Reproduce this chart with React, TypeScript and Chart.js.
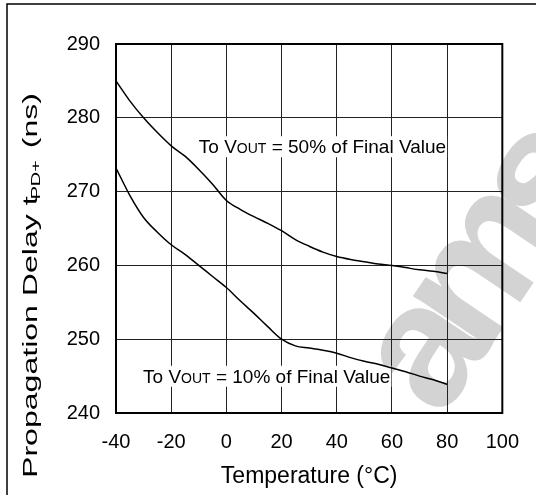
import React, { useEffect, useRef } from "react";
import { Chart, registerables } from "chart.js";

Chart.register(...registerables);

// ---- data ----
const temperatures = [-40, -35, -30, -25, -20, -15, -10, -5, 0, 5, 10, 15, 20, 25, 30, 35, 40, 45, 50, 55, 60, 65, 70, 75, 80];
const delay50 = [285, 282.3, 280, 278, 276.2, 274.8, 273, 271, 268.8, 267.6, 266.6, 265.7, 264.7, 263.5, 262.6, 261.8, 261.2, 260.8, 260.5, 260.2, 260, 259.7, 259.4, 259.2, 258.9];
const delay10 = [273.2, 269.5, 266.5, 264.5, 262.8, 261.5, 260, 258.5, 257, 255.2, 253.5, 251.7, 250, 249.1, 248.8, 248.5, 248.1, 247.5, 247, 246.6, 246.1, 245.6, 245, 244.5, 243.9];
const xTickValues = [-40, -20, 0, 20, 40, 60, 80, 100];
const yTickValues = [240, 250, 260, 270, 280, 290];
const xTitle = "Temperature (°C)";
const yTitleParts = ["Propagation Delay t", "PD+", " (ns)"];
const label50 = ["To V", "OUT", " = 50% of Final Value"];
const label10 = ["To V", "OUT", " = 10% of Final Value"];
const label50Pos = [-10, 275.2];
const label10Pos = [-30.2, 244.1];
const watermarkText = "ams";

const FONT = "'Liberation Sans', Arial, Helvetica, sans-serif";

const framePlugin = {
  id: "frameAndWatermark",
  beforeDraw(chart: any) {
    const ctx = chart.ctx;
    ctx.save();
    ctx.fillStyle = "#ffffff";
    ctx.fillRect(0, 0, chart.width, chart.height);
    // watermark
    ctx.translate(441, 420);
    ctx.rotate((-56 * Math.PI) / 180);
    ctx.fillStyle = "#d3d3d3";
    ctx.font = `bold 175px ${FONT}`;
    try { ctx.letterSpacing = "-22px"; } catch (e) {}
    ctx.textBaseline = "alphabetic";
    ctx.fillText(watermarkText, 0, 0);
    ctx.restore();
    // outer frame
    ctx.save();
    ctx.strokeStyle = "#000";
    ctx.lineWidth = 1.5;
    ctx.strokeRect(7, 4, chart.width + 20, chart.height + 20);
    ctx.restore();
  },
};

function drawLabel(ctx: any, parts: string[], x: number, y: number) {
  const big = `19px ${FONT}`;
  const small = `14px ${FONT}`;
  ctx.font = big;
  const w0 = ctx.measureText(parts[0]).width;
  const w2 = ctx.measureText(parts[2]).width;
  ctx.font = small;
  const w1 = ctx.measureText(parts[1]).width;
  const total = w0 + w1 + w2;
  ctx.fillStyle = "#fff";
  ctx.fillRect(x - 1, y - 17, total + 2, 21);
  ctx.fillStyle = "#000";
  ctx.textBaseline = "alphabetic";
  ctx.textAlign = "left";
  ctx.font = big;
  ctx.fillText(parts[0], x, y);
  ctx.font = small;
  ctx.fillText(parts[1], x + w0, y);
  ctx.font = big;
  ctx.fillText(parts[2], x + w0 + w1, y);
}

const annotationPlugin = {
  id: "annotations",
  beforeDatasetsDraw(chart: any) {
    const ctx = chart.ctx;
    const xs = chart.scales.x;
    const ys = chart.scales.y;
    ctx.save();
    drawLabel(ctx, label50, xs.getPixelForValue(label50Pos[0]), ys.getPixelForValue(label50Pos[1]));
    drawLabel(ctx, label10, xs.getPixelForValue(label10Pos[0]), ys.getPixelForValue(label10Pos[1]));
    ctx.restore();
  },
  afterDatasetsDraw(chart: any) {
    const ctx = chart.ctx;
    const a = chart.chartArea;
    ctx.save();
    ctx.strokeStyle = "#000";
    ctx.lineWidth = 2;
    ctx.strokeRect(a.left, a.top, a.right - a.left, a.bottom - a.top);
    ctx.restore();
  },
  afterDraw(chart: any) {
    // y axis title with subscript, stretched along its length
    const ctx = chart.ctx;
    const a = chart.chartArea;
    ctx.save();
    const big = `21px ${FONT}`;
    const small = `13px ${FONT}`;
    ctx.font = big;
    const w0 = ctx.measureText(yTitleParts[0]).width;
    const w2 = ctx.measureText(yTitleParts[2]).width;
    ctx.font = small;
    const w1 = ctx.measureText(yTitleParts[1]).width;
    const total = w0 + w1 + w2;
    const target = 385;
    const sx = target / total;
    const cy = a.top + 241.5;
    ctx.translate(36.7, cy);
    ctx.rotate(-Math.PI / 2);
    ctx.scale(sx, 1);
    ctx.fillStyle = "#000";
    ctx.textBaseline = "alphabetic";
    ctx.textAlign = "left";
    let x = -total / 2;
    ctx.font = big;
    ctx.fillText(yTitleParts[0], x, 0);
    x += w0 - 2;
    ctx.font = small;
    ctx.fillText(yTitleParts[1], x, 3);
    x += w1 + 2;
    ctx.font = big;
    ctx.fillText(yTitleParts[2], x, 0);
    ctx.restore();
  },
};

export default function App() {
  const ref = useRef<HTMLCanvasElement>(null);
  useEffect(() => {
    if (!ref.current) return;
    const chart = new Chart(ref.current, {
      type: "line",
      data: {
        datasets: [
          {
            label: "50%",
            data: temperatures.map((t, i) => ({ x: t, y: delay50[i] })),
            borderColor: "#000",
            borderWidth: 1.5,
            pointRadius: 0,
            cubicInterpolationMode: "monotone",
            fill: false,
          },
          {
            label: "10%",
            data: temperatures.map((t, i) => ({ x: t, y: delay10[i] })),
            borderColor: "#000",
            borderWidth: 1.5,
            pointRadius: 0,
            cubicInterpolationMode: "monotone",
            fill: false,
          },
        ],
      },
      options: {
        animation: false,
        responsive: false,
        devicePixelRatio: 1,
        layout: { padding: { top: 44, right: 31, left: 0, bottom: 0 } },
        plugins: { legend: { display: false }, tooltip: { enabled: false }, title: { display: false } },
        scales: {
          x: {
            type: "linear",
            min: -40,
            max: 100,
            afterFit: (s: any) => { s.height = 82; },
            afterBuildTicks: (s: any) => { s.ticks = xTickValues.map((v) => ({ value: v })); },
            grid: { color: "#222", lineWidth: 1, drawTicks: false },
            border: { display: false },
            ticks: { color: "#000", padding: 17, font: { size: 20, family: FONT } },
            title: { display: true, text: xTitle, color: "#000", font: { size: 23, family: FONT }, padding: { top: 0, bottom: 5 } },
          },
          y: {
            type: "linear",
            min: 240,
            max: 290,
            afterFit: (s: any) => { s.width = 116; },
            afterBuildTicks: (s: any) => { s.ticks = yTickValues.map((v) => ({ value: v })); },
            grid: { color: "#222", lineWidth: 1, drawTicks: false },
            border: { display: false },
            ticks: { color: "#000", padding: 16, font: { size: 20, family: FONT } },
          },
        },
      },
      plugins: [framePlugin, annotationPlugin],
    } as any);
    return () => chart.destroy();
  }, []);
  return (
    <div style={{ position: "fixed", left: 0, top: 0, width: 536, height: 495 }}>
      <canvas ref={ref} width={536} height={495} />
    </div>
  );
}
